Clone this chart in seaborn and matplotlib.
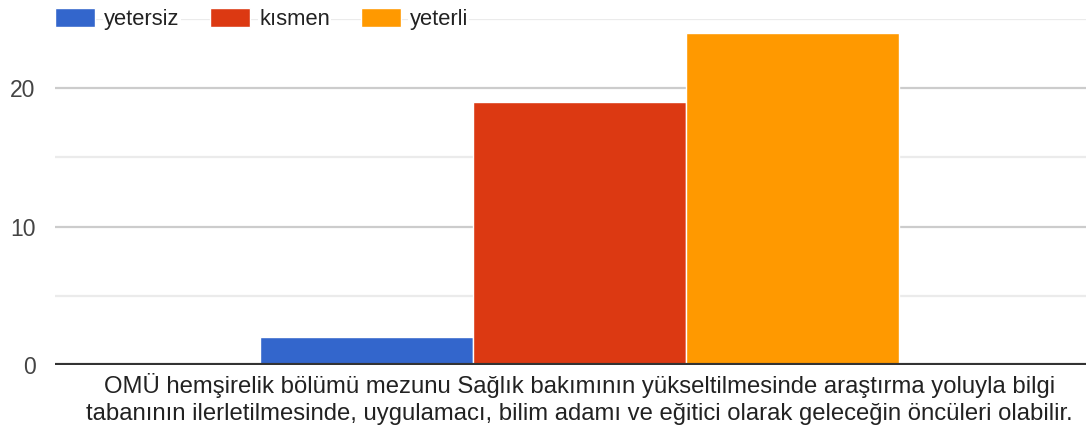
import pandas as pd
import matplotlib.pyplot as plt
import seaborn as sns

# --- Data ---
question = ["OMÜ hemşirelik bölümü mezunu Sağlık bakımının yükseltilmesinde araştırma yoluyla bilgi\n"
            "tabanının ilerletilmesinde, uygulamacı, bilim adamı ve eğitici olarak geleceğin öncüleri olabilir."]
levels = ["yetersiz", "kısmen", "yeterli"]
counts = [2, 19, 24]
colors = ["#3366cc", "#dc3912", "#ff9900"]

df = pd.DataFrame({"soru": question * len(levels), "seviye": levels, "sayi": counts})

# --- Style ---
sns.set_style("white")
plt.rcParams["font.family"] = ["Liberation Sans", "DejaVu Sans"]
fs = 17.2

fig = plt.figure(figsize=(10.86, 4.45), dpi=100)
ax = fig.add_axes([55 / 1086, 80 / 445, 1 - 55 / 1086, 346 / 445])

sns.barplot(data=df, x="soru", y="sayi", hue="seviye", hue_order=levels,
            palette=dict(zip(levels, colors)), width=0.62, saturation=1,
            edgecolor="white", linewidth=1, ax=ax, zorder=3)

# --- Axes ---
ax.set_ylim(0, 25)
ax.set_xlim(-0.509, 0.491)
for y in [5, 15, 25]:
    ax.axhline(y, color="#ebebeb", lw=1.6, zorder=1)
for y in [10, 20]:
    ax.axhline(y, color="#cccccc", lw=1.6, zorder=1)
ax.axhline(0, color="#333333", lw=3, zorder=4)

ax.set_yticks([0, 10, 20])
ax.tick_params(axis="y", length=0, pad=14, labelsize=16.5, labelcolor="#444444")
ax.tick_params(axis="x", length=0, pad=6, labelsize=fs, labelcolor="#222222")
for lbl in ax.get_xticklabels():
    lbl.set_linespacing(1.3)
ax.set_xlabel("")
ax.set_ylabel("")
sns.despine(ax=ax, left=True, bottom=True, top=True, right=True)

# --- Legend ---
leg = ax.legend(loc="center left", bbox_to_anchor=(0.0, 1.0), ncol=3, frameon=False,
                fontsize=15.8, handlelength=1.82, handleheight=0.96, handletextpad=0.41,
                columnspacing=1.4, borderaxespad=0, borderpad=0)
for t in leg.get_texts():
    t.set_color("#222222")
    t.set_bbox(dict(facecolor="white", edgecolor="none", pad=1))

plt.savefig("out.png", dpi=100)
